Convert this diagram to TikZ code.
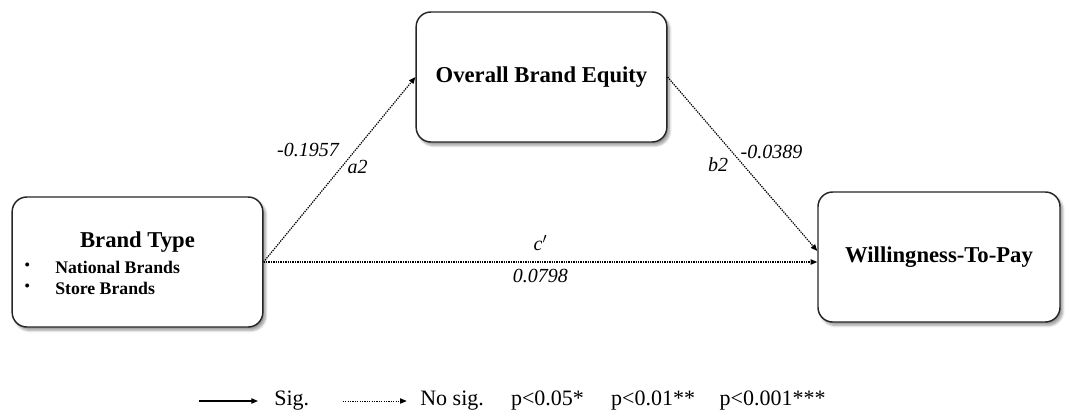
\documentclass[tikz,border=0pt]{standalone}
\usepackage{fontspec}
\setmainfont{Liberation Serif}
\usepackage{tikz}
\usetikzlibrary{arrows.meta, positioning, calc, shadows.blur}

\begin{document}
\begin{tikzpicture}[
    x=0.75pt, y=-0.75pt,
    box/.style={draw=black!85, line width=1.1pt, rounded corners=11pt, fill=white,
                blur shadow={shadow xshift=2pt, shadow yshift=-2.5pt, shadow blur steps=6, shadow opacity=40},
                minimum height=97.5pt, inner sep=0pt},
    title/.style={font=\bfseries\fontsize{17}{20}\selectfont},
    item/.style={font=\bfseries\fontsize{13.3}{15}\selectfont, inner sep=0pt, anchor=west},
    coef/.style={font=\itshape\fontsize{15}{17}\selectfont, inner sep=0pt},
    legtext/.style={font=\fontsize{16.5}{19}\selectfont, inner sep=0pt, anchor=west},
    nosig/.style={-{Triangle[length=5pt, width=4pt]}, line width=0.9pt, dash pattern=on 1pt off 0.8pt},
    sig/.style={-{Triangle[length=5pt, width=4pt]}, line width=0.9pt}
]
\useasboundingbox (0,0) rectangle (1065,419);

% boxes
\node[box, minimum width=188pt] (bt) at (137.5,262) {};
\node[box, minimum width=188pt, title] (obe) at (541.5,77) {Overall Brand Equity};
\node[box, minimum width=181.5pt, title] (wtp) at (939,257) {Willingness-To-Pay};

\node[title] (bttitle) at (137.5,242) {Brand Type};
\node[item] (nat) at (55,267) {National Brands};
\node[item] (sto) at (55,288) {Store Brands};
\node[item, font=\fontsize{12.5}{14}\selectfont] (dot1) at (24,267) {\textbullet};
\node[item, font=\fontsize{12.5}{14}\selectfont] (dot2) at (24,288) {\textbullet};

% paths
\draw[nosig] (bt.east) -- (obe.west)
    node[coef, pos=0.605, anchor=east, xshift=-12pt] (a2val) {-0.1957}
    node[coef, pos=0.514, anchor=west, xshift=4pt] (a2) {a2};
\draw[nosig] (obe.east) -- ($(wtp.west)+(0,-6)$)
    node[coef, pos=0.506, anchor=east, xshift=-11pt] (b2) {b2}
    node[coef, pos=0.431, anchor=west, xshift=6pt] (b2val) {-0.0389};
\draw[nosig] (bt.east) -- (bt.east -| wtp.west)
    node[coef, pos=0.5, above=8pt] (c) {c$'$}
    node[coef, pos=0.5, below=5pt] (cval) {0.0798};

% legend
\coordinate (sigA) at (199,401);
\coordinate (sigB) at (258,401);
\draw[sig] (sigA) -- (sigB);
\node[legtext, right=12pt of sigB] (sigtxt) {Sig.};
\coordinate[right=25pt of sigtxt.east] (nsA);
\coordinate[right=48pt of nsA] (nsB);
\draw[nosig, line width=0.6pt] (nsA) -- (nsB);
\node[legtext, right=10pt of nsB] (nstxt) {No sig.};
\node[legtext, right=20pt of nstxt.east] (p1) {p<0.05*};
\node[legtext, right=20pt of p1.east] (p2) {p<0.01**};
\node[legtext, right=18pt of p2.east] (p3) {p<0.001***};
\end{tikzpicture}
\end{document}
